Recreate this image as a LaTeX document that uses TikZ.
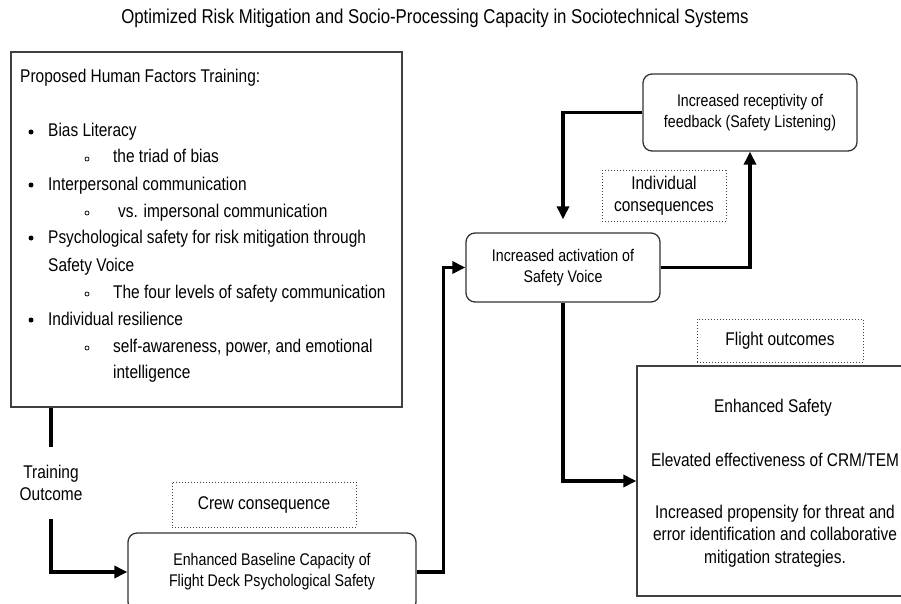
\documentclass[tikz,border=0pt]{standalone}
\usepackage{fontspec}
\setmainfont[FakeStretch=0.84]{Liberation Sans}
\usetikzlibrary{arrows.meta}
\newcommand\fsA{\fontsize{16.9}{21}\selectfont}
\newcommand\fsB{\fontsize{18.4}{22}\selectfont}
\newcommand\fsT{\fontsize{20}{24}\selectfont}
\tikzset{
  rbox/.style={draw=black!80, line width=1.3pt, rounded corners=9pt, align=center, font=\fsA, inner sep=0pt},
  sbox/.style={draw=black!75, line width=1.3pt, inner sep=0pt},
  tagbox/.style={draw=black!75, dotted, line width=1pt, align=center, font=\fsB, inner sep=0pt},
  conn/.style={line width=3.2pt, line join=miter},
  arr/.style={-{Triangle[length=13pt,width=12pt]}},
  txt/.style={font=\fsB, inner sep=0pt, anchor=base west},
  ctxt/.style={font=\fsB, inner sep=0pt, anchor=base},
  bul/.style={circle, fill=black, inner sep=0pt, minimum size=5pt},
  sbul/.style={circle, draw=black, line width=0.7pt, inner sep=0pt, minimum size=4pt}
}
\begin{document}
\begin{tikzpicture}[x=1pt,y=-1pt]
\useasboundingbox (0,0) rectangle (901,604);
% title
\node[font=\fsT, inner sep=0pt, anchor=base] (title) at (435,24) {Optimized Risk Mitigation and Socio-Processing Capacity in Sociotechnical Systems};
% left box
\node[sbox, minimum width=391pt, minimum height=355pt] (leftbox) at (206.5,229.5) {};
\node[txt] (h) at (20,83) {Proposed Human Factors Training:};
\node[bul] (b1) at (31,132) {};
\node[txt] (t1) at (48,137) {Bias Literacy};
\node[sbul] (s1) at (87,159) {};
\node[txt] (u1) at (113,163) {the triad of bias};
\node[bul] (b2) at (31,185) {};
\node[txt] (t2) at (48,190) {Interpersonal communication};
\node[sbul] (s2) at (87,213) {};
\node[txt] (u2) at (118,217) {vs. impersonal communication};
\node[bul] (b3) at (31,238) {};
\node[txt] (t3) at (48,243) {Psychological safety for risk mitigation through};
\node[txt] (t3b) at (48,271) {Safety Voice};
\node[sbul] (s3) at (87,294) {};
\node[txt] (u3) at (113,298) {The four levels of safety communication};
\node[bul] (b4) at (31,320) {};
\node[txt] (t4) at (48,325) {Individual resilience};
\node[sbul] (s4) at (87,348) {};
\node[txt] (u4) at (113,352) {self-awareness, power, and emotional};
\node[txt] (u4b) at (113,378) {intelligence};
% training outcome label
\node[font=\fsB, align=center, inner sep=0pt, minimum height=72pt] (train) at (51,483) {Training\\Outcome};
% boxes
\node[rbox, minimum width=288pt, minimum height=78pt] (base) at (272,572) {Enhanced Baseline Capacity of\\Flight Deck Psychological Safety};
\node[rbox, minimum width=194pt, minimum height=69pt] (voice) at (563,267.5) {Increased activation of\\Safety Voice};
\node[rbox, minimum width=214pt, minimum height=77pt] (recep) at (750,112.5) {Increased receptivity of\\feedback (Safety Listening)};
% dotted tags
\node[tagbox, minimum width=184pt, minimum height=45pt] (crew) at (264,504.5) {Crew consequence};
\node[tagbox, minimum width=124pt, minimum height=50pt] (indiv) at (664,196) {Individual\\consequences};
\node[tagbox, minimum width=166pt, minimum height=43pt] (flight) at (780,340.5) {Flight outcomes};
% safety box
\node[sbox, minimum width=276pt, minimum height=230pt] (safe) at (775,481) {};
\node[ctxt] (e1) at (773,412) {Enhanced Safety};
\node[ctxt] (e2) at (775,466) {Elevated effectiveness of CRM/TEM};
\node[ctxt] (e3) at (775,518) {Increased propensity for threat and};
\node[ctxt] (e4) at (775,540) {error identification and collaborative};
\node[ctxt] (e5) at (775,563) {mitigation strategies.};
% connectors
\draw[conn] (leftbox.south -| train.north) -- (train.north);
\draw[conn,arr] (train.south) |- (base.west);
\draw[conn,arr] (base.east) -- ++(27,0) |- (voice.west);
\draw[conn,arr] (voice.east) -| (recep.south);
\draw[conn,arr,shorten >=13pt] (recep.west) -| (voice.north);
\draw[conn,arr] (voice.south) |- (safe.west);
\end{tikzpicture}
\end{document}
